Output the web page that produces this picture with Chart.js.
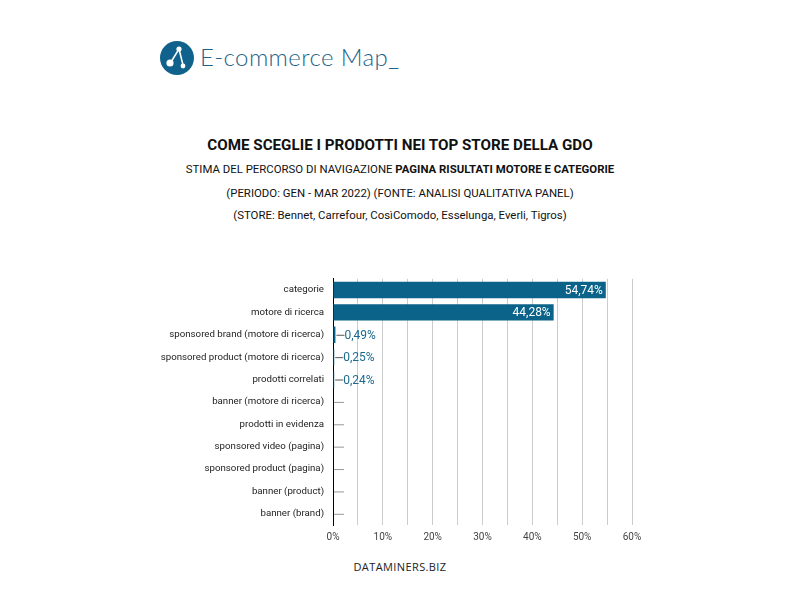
<!DOCTYPE html>
<html>
<head>
<meta charset="utf-8">
<script src="https://cdn.jsdelivr.net/npm/chart.js@4"></script>
<style>
  body { margin: 0; background: #fff; font-family: Roboto, sans-serif; }
  #page { position: relative; width: 800px; height: 600px; overflow: hidden; }
  .logo { position: absolute; left: 160px; top: 41px; width: 34px; height: 34px; }
  .brand { position: absolute; left: 200px; top: 42px; font-family: Lato, sans-serif; font-weight: 300; font-size: 24px; color: #1f6488; letter-spacing: 0.4px; }
  .t { position: absolute; left: 0; width: 800px; text-align: center; color: #111; }
  .t1 { top: 136px; font-size: 15.2px; font-weight: bold; }
  .t2 { top: 162px; font-size: 11.4px; }
  .t3 { top: 186px; font-size: 11.4px; }
  .t4 { top: 208px; font-size: 11.4px; }
  .foot { position: absolute; left: 0; width: 800px; top: 559px; text-align: center; font-family: "Open Sans", sans-serif; font-size: 11px; color: #222; letter-spacing: 0.4px; }
  #wrap { position: absolute; left: 0; top: 264px; width: 800px; height: 286px; }
</style>
</head>
<body>
<div id="page">
  <svg class="logo" viewBox="0 0 34 34">
    <circle cx="17" cy="17" r="17" fill="#10628c"/>
    <line x1="19" y1="8" x2="11" y2="21" stroke="#fff" stroke-width="1.5"/>
    <line x1="19" y1="8" x2="23" y2="24" stroke="#fff" stroke-width="1.5"/>
    <circle cx="19" cy="8" r="2.6" fill="#fff"/>
    <circle cx="10" cy="22" r="3.6" fill="#fff"/>
    <circle cx="23" cy="25" r="2.4" fill="#fff"/>
  </svg>
  <div class="brand">E-commerce Map_</div>
  <div class="t t1">COME SCEGLIE I PRODOTTI NEI TOP STORE DELLA GDO</div>
  <div class="t t2">STIMA DEL PERCORSO DI NAVIGAZIONE <b>PAGINA RISULTATI MOTORE E CATEGORIE</b></div>
  <div class="t t3">(PERIODO: GEN - MAR 2022) (FONTE: ANALISI QUALITATIVA PANEL)</div>
  <div class="t t4">(STORE: Bennet, Carrefour, CosìComodo, Esselunga, Everli, Tigros)</div>
  <div id="wrap"><canvas id="chart"></canvas></div>
  <div class="foot">DATAMINERS.BIZ</div>
</div>
<script>
const categories = [
  'categorie',
  'motore di ricerca',
  'sponsored brand (motore di ricerca)',
  'sponsored product (motore di ricerca)',
  'prodotti correlati',
  'banner (motore di ricerca)',
  'prodotti in evidenza',
  'sponsored video (pagina)',
  'sponsored product (pagina)',
  'banner (product)',
  'banner (brand)'
];
const shares = [54.74, 44.28, 0.49, 0.25, 0.24, 0, 0, 0, 0, 0, 0];
const xTicks = [0, 10, 20, 30, 40, 50, 60];

const barColor = '#0b6389';

// value labels: white inside long bars, leader line + blue text for short ones
const valueLabels = {
  id: 'valueLabels',
  afterDatasetsDraw(chart) {
    const ctx = chart.ctx;
    const meta = chart.getDatasetMeta(0);
    ctx.save();
    ctx.font = '12px Roboto';
    ctx.textBaseline = 'middle';
    meta.data.forEach((bar, i) => {
      const v = shares[i];
      const txt = v.toFixed(2).replace('.', ',') + '%';
      if (v > 10) {
        ctx.fillStyle = '#fff';
        ctx.textAlign = 'right';
        ctx.fillText(txt, bar.x - 3, bar.y + 1);
      } else if (v > 0) {
        ctx.strokeStyle = '#555';
        ctx.lineWidth = 1;
        ctx.beginPath();
        ctx.moveTo(bar.x + 1, bar.y + 0.5);
        ctx.lineTo(bar.x + 9, bar.y + 0.5);
        ctx.stroke();
        ctx.fillStyle = '#1b6a8e';
        ctx.textAlign = 'left';
        ctx.fillText(txt, bar.x + 9, bar.y + 1);
      } else {
        ctx.strokeStyle = '#999';
        ctx.lineWidth = 1;
        ctx.beginPath();
        ctx.moveTo(bar.x + 1, bar.y + 0.5);
        ctx.lineTo(bar.x + 11, bar.y + 0.5);
        ctx.stroke();
      }
    });
    ctx.restore();
  }
};

new Chart(document.getElementById('chart'), {
  type: 'bar',
  data: {
    labels: categories,
    datasets: [{
      data: shares,
      backgroundColor: barColor,
      barPercentage: 0.73,
      categoryPercentage: 1
    }]
  },
  options: {
    indexAxis: 'y',
    responsive: true,
    maintainAspectRatio: false,
    animation: false,
    layout: { padding: { top: 5, right: 168, left: 0, bottom: 0 } },
    plugins: { legend: { display: false }, tooltip: { enabled: false } },
    scales: {
      x: {
        min: 0,
        max: 60,
        afterBuildTicks(scale) {
          const t = [];
          for (let v = 0; v <= 60; v += 5) t.push({ value: v });
          scale.ticks = t;
        },
        afterFit(scale) { scale.height = 25; },
        ticks: {
          color: '#444',
          font: { size: 10, family: 'Roboto' },
          padding: 6,
          maxRotation: 0,
          autoSkip: false,
          callback: (v) => xTicks.includes(v) ? v + '%' : ''
        },
        grid: { color: '#cccccc', drawTicks: false },
        border: { display: false }
      },
      y: {
        afterFit(scale) { scale.width = 333; },
        ticks: {
          color: '#222',
          font: { size: 9.7, family: 'Roboto' },
          padding: 9
        },
        grid: { display: false, drawTicks: false },
        border: { display: true, color: '#000', width: 1 }
      }
    }
  },
  plugins: [valueLabels]
});
</script>
</body>
</html>
